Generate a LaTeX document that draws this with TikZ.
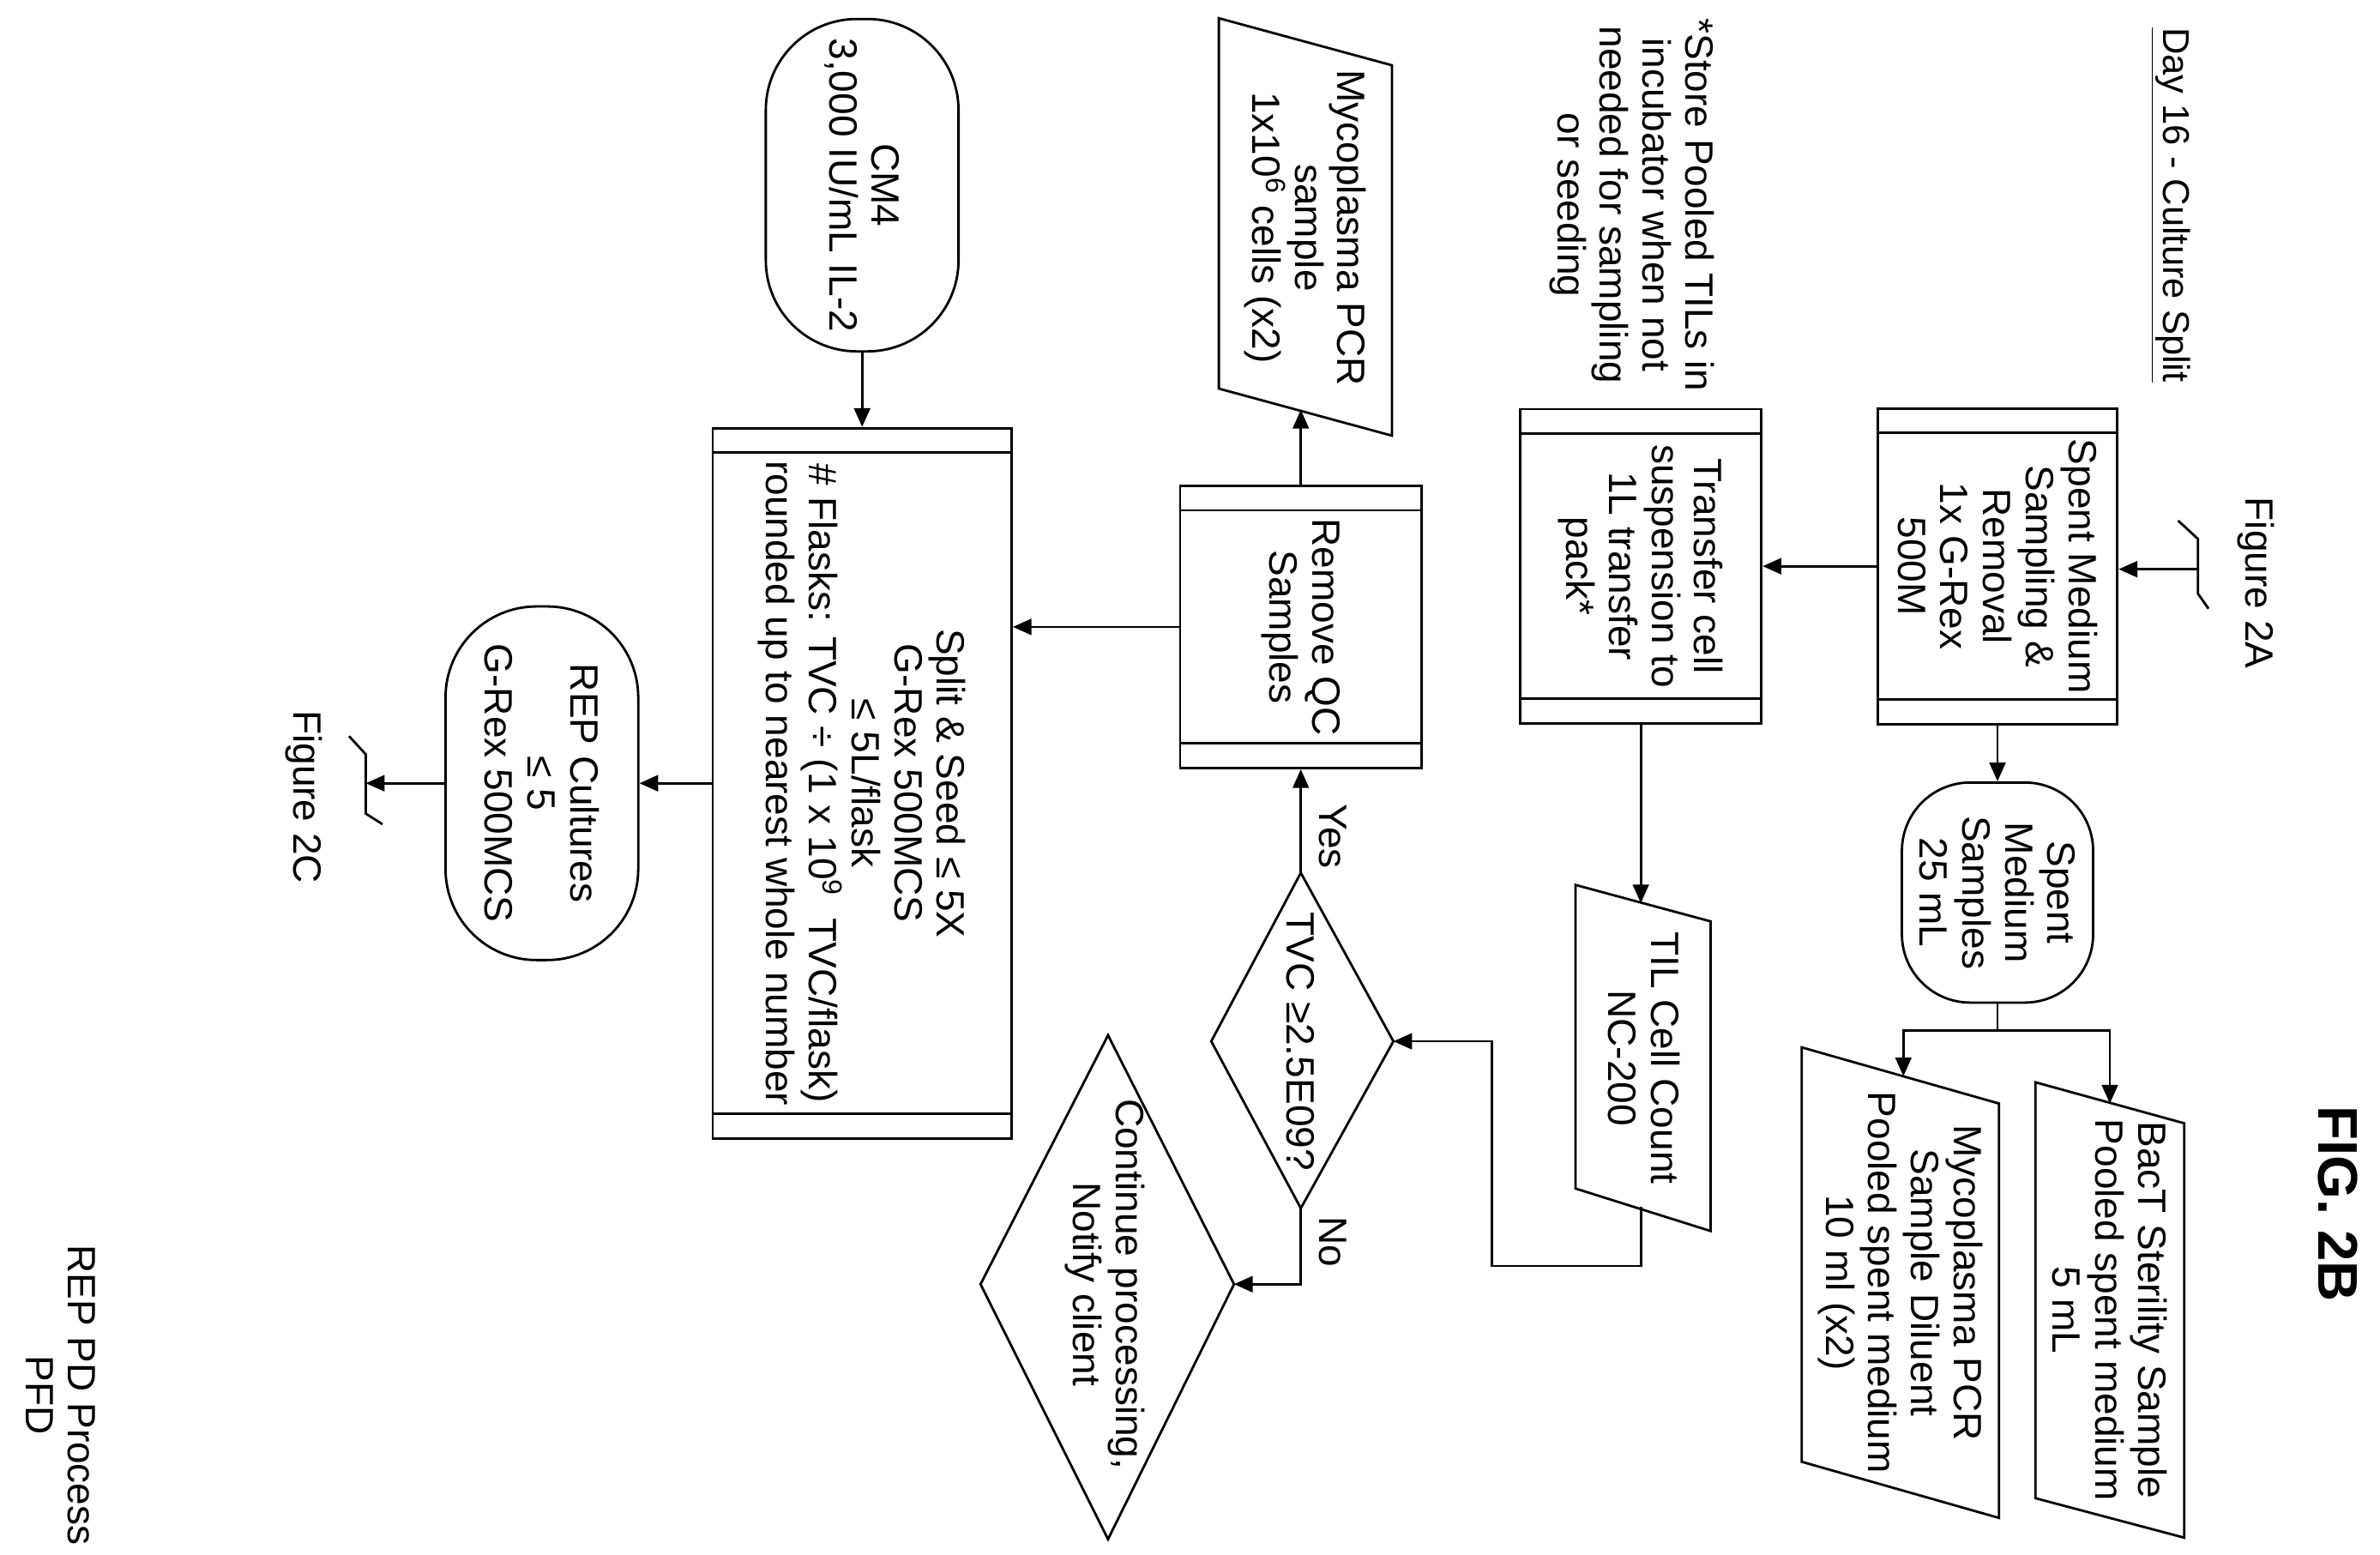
\documentclass[tikz,border=0pt]{standalone}
\usepackage{fontspec}
\setmainfont{Liberation Sans}
\usetikzlibrary{shapes.geometric,arrows.meta,calc}
\begin{document}
\begin{tikzpicture}[x=0.02cm,y=-0.02cm,
  font=\fontsize{14.8}{16}\selectfont,
  every node/.style={rotate=-90,align=center,inner sep=0pt},
  ln/.style={line width=0.9pt},
  arr/.style={ln,-{Triangle[length=7pt,width=6pt]}},
  proc/.style={draw,ln,rectangle},
  term/.style={draw,ln,rectangle}]
\useasboundingbox (0,0) rectangle (1568,1024);

% titles
\node (title) at (1430,135) {\fontsize{14}{15}\selectfont\underline{Day 16 - Culture Split}};
\node (fig) at (1540,793) {\fontsize{21}{24}\selectfont\bfseries FIG. 2B};
\node (f2a) at (1486,384) {Figure 2A};
\node (note) at (1075,135) {*Store Pooled TILs in\\incubator when not\\needed for sampling\\or seeding};
\node (pfd) at (40,919) {REP PD Process\\PFD};
\node (f2c) at (200,525) {Figure 2C};

% off-page connectors
\coordinate (o2a) at (1448,375);
\draw[ln] (1435,343) -- (1448,355) -- (1448,391) -- (1455,401);
\coordinate (o2c) at (241,516);
\draw[ln] (230,485) -- (241,497) -- (241,536) -- (252,543);

% process boxes
\node[proc,minimum width=4.16cm,minimum height=3.16cm] (b1) at (1316,373) {Spent Medium\\Sampling \&\\Removal\\1x G-Rex\\500M};
\node[proc,minimum width=4.14cm,minimum height=3.18cm] (tr) at (1081,373) {Transfer cell\\suspension to\\1L transfer\\pack*};
\node[proc,minimum width=3.72cm,minimum height=3.18cm] (qc) at (857,413) {Remove QC\\Samples};
\node[proc,minimum width=9.36cm,minimum height=3.94cm] (sp) at (568,516) {Split \& Seed ≤ 5X\\G-Rex 500MCS\\≤ 5L/flask\\\# Flasks: TVC ÷ (1 x 10\textsuperscript{9}\ \ TVC/flask)\\rounded up to nearest whole number};
\foreach \b in {b1,tr,qc,sp}{
  \draw[ln] ($(\b.south west)+(0,17)$) -- ($(\b.north west)+(0,17)$);
  \draw[ln] ($(\b.south east)+(0,-17)$) -- ($(\b.north east)+(0,-17)$);
}

% terminals
\node[term,rounded corners=0.9cm,minimum width=2.9cm,minimum height=2.52cm] (sm) at (1316,588) {Spent\\Medium\\Samples\\25 mL};
\node[term,rounded corners=1.2cm,minimum width=4.38cm,minimum height=2.54cm] (cm) at (568,122) {CM4\\3,000 IU/mL IL-2};
\node[term,rounded corners=1.2cm,minimum width=4.66cm,minimum height=2.54cm] (rep) at (357,516) {REP Cultures\\≤ 5\\G-Rex 500MCS};

% decisions
\coordinate (dvT) at (857,575); \coordinate (dvB) at (857,796);
\coordinate (dvL) at (798,686); \coordinate (dvR) at (918,686);
\draw[ln] (dvT) -- (dvR) -- (dvB) -- (dvL) -- cycle;
\node (dv) at (857,686) {TVC ≥2.5E09?};
\coordinate (cdT) at (730,682); \coordinate (cdB) at (730,1014);
\coordinate (cdL) at (646,846); \coordinate (cdR) at (813,846);
\draw[ln] (cdT) -- (cdR) -- (cdB) -- (cdL) -- cycle;
\node (cd) at (728,846) {Continue processing,\\Notify client};

% parallelograms (data)
\draw[ln] (803,12) -- (917,43) -- (917,287) -- (803,256) -- cycle;
\node (ms) at (860,150) {Mycoplasma PCR\\sample\\1x10\textsuperscript{6} cells (x2)};
\coordinate (msb) at (857,270);
\draw[ln] (1038,583) -- (1127,607) -- (1127,811) -- (1038,783) -- cycle;
\node (til) at (1083,697) {TIL Cell Count\\NC-200};
\coordinate (tilt) at (1081,595);
\coordinate (tilb) at (1081,795);
\draw[ln] (1187,690) -- (1317,727) -- (1317,1000) -- (1187,963) -- cycle;
\node (md) at (1252,845) {Mycoplasma PCR\\Sample Diluent\\Pooled spent medium\\10 ml (x2)};
\coordinate (mdt) at (1254,709);
\draw[ln] (1341,713) -- (1439,740) -- (1439,1013) -- (1341,987) -- cycle;
\node (bt) at (1390,863) {BacT Sterility Sample\\Pooled spent medium\\5 mL};
\coordinate (btt) at (1390,727);

% connectors
\draw[arr] (o2a) -- (b1.north |- o2a);
\draw[arr] (b1.south) -- (b1.south -| tr.north);
\draw[arr] (b1.east) -- (sm.west);
\coordinate (br) at (1316,679);
\draw[ln] (sm.east) -- (br);
\draw[arr] (br) -| (mdt);
\draw[arr] (br) -| (btt);
\draw[arr] (tr.east) -- (tilt);
\draw[arr] (tilb) -- (1081,834) -- (983,834) |- (dvR);
\draw[arr] (dvT) -- (qc.east);
\draw[arr] (dvB) |- (cdR);
\draw[arr] (qc.west) -- (msb);
\draw[arr] (qc.south) -- (qc.south -| sp.north);
\draw[arr] (cm.east) -- (sp.west);
\draw[arr] (sp.south) -- (sp.south -| rep.north);
\draw[arr] (rep.south) -- (o2c);
\node (yes) at (878,551) {Yes};
\node (no) at (878,818) {No};
\end{tikzpicture}
\end{document}
